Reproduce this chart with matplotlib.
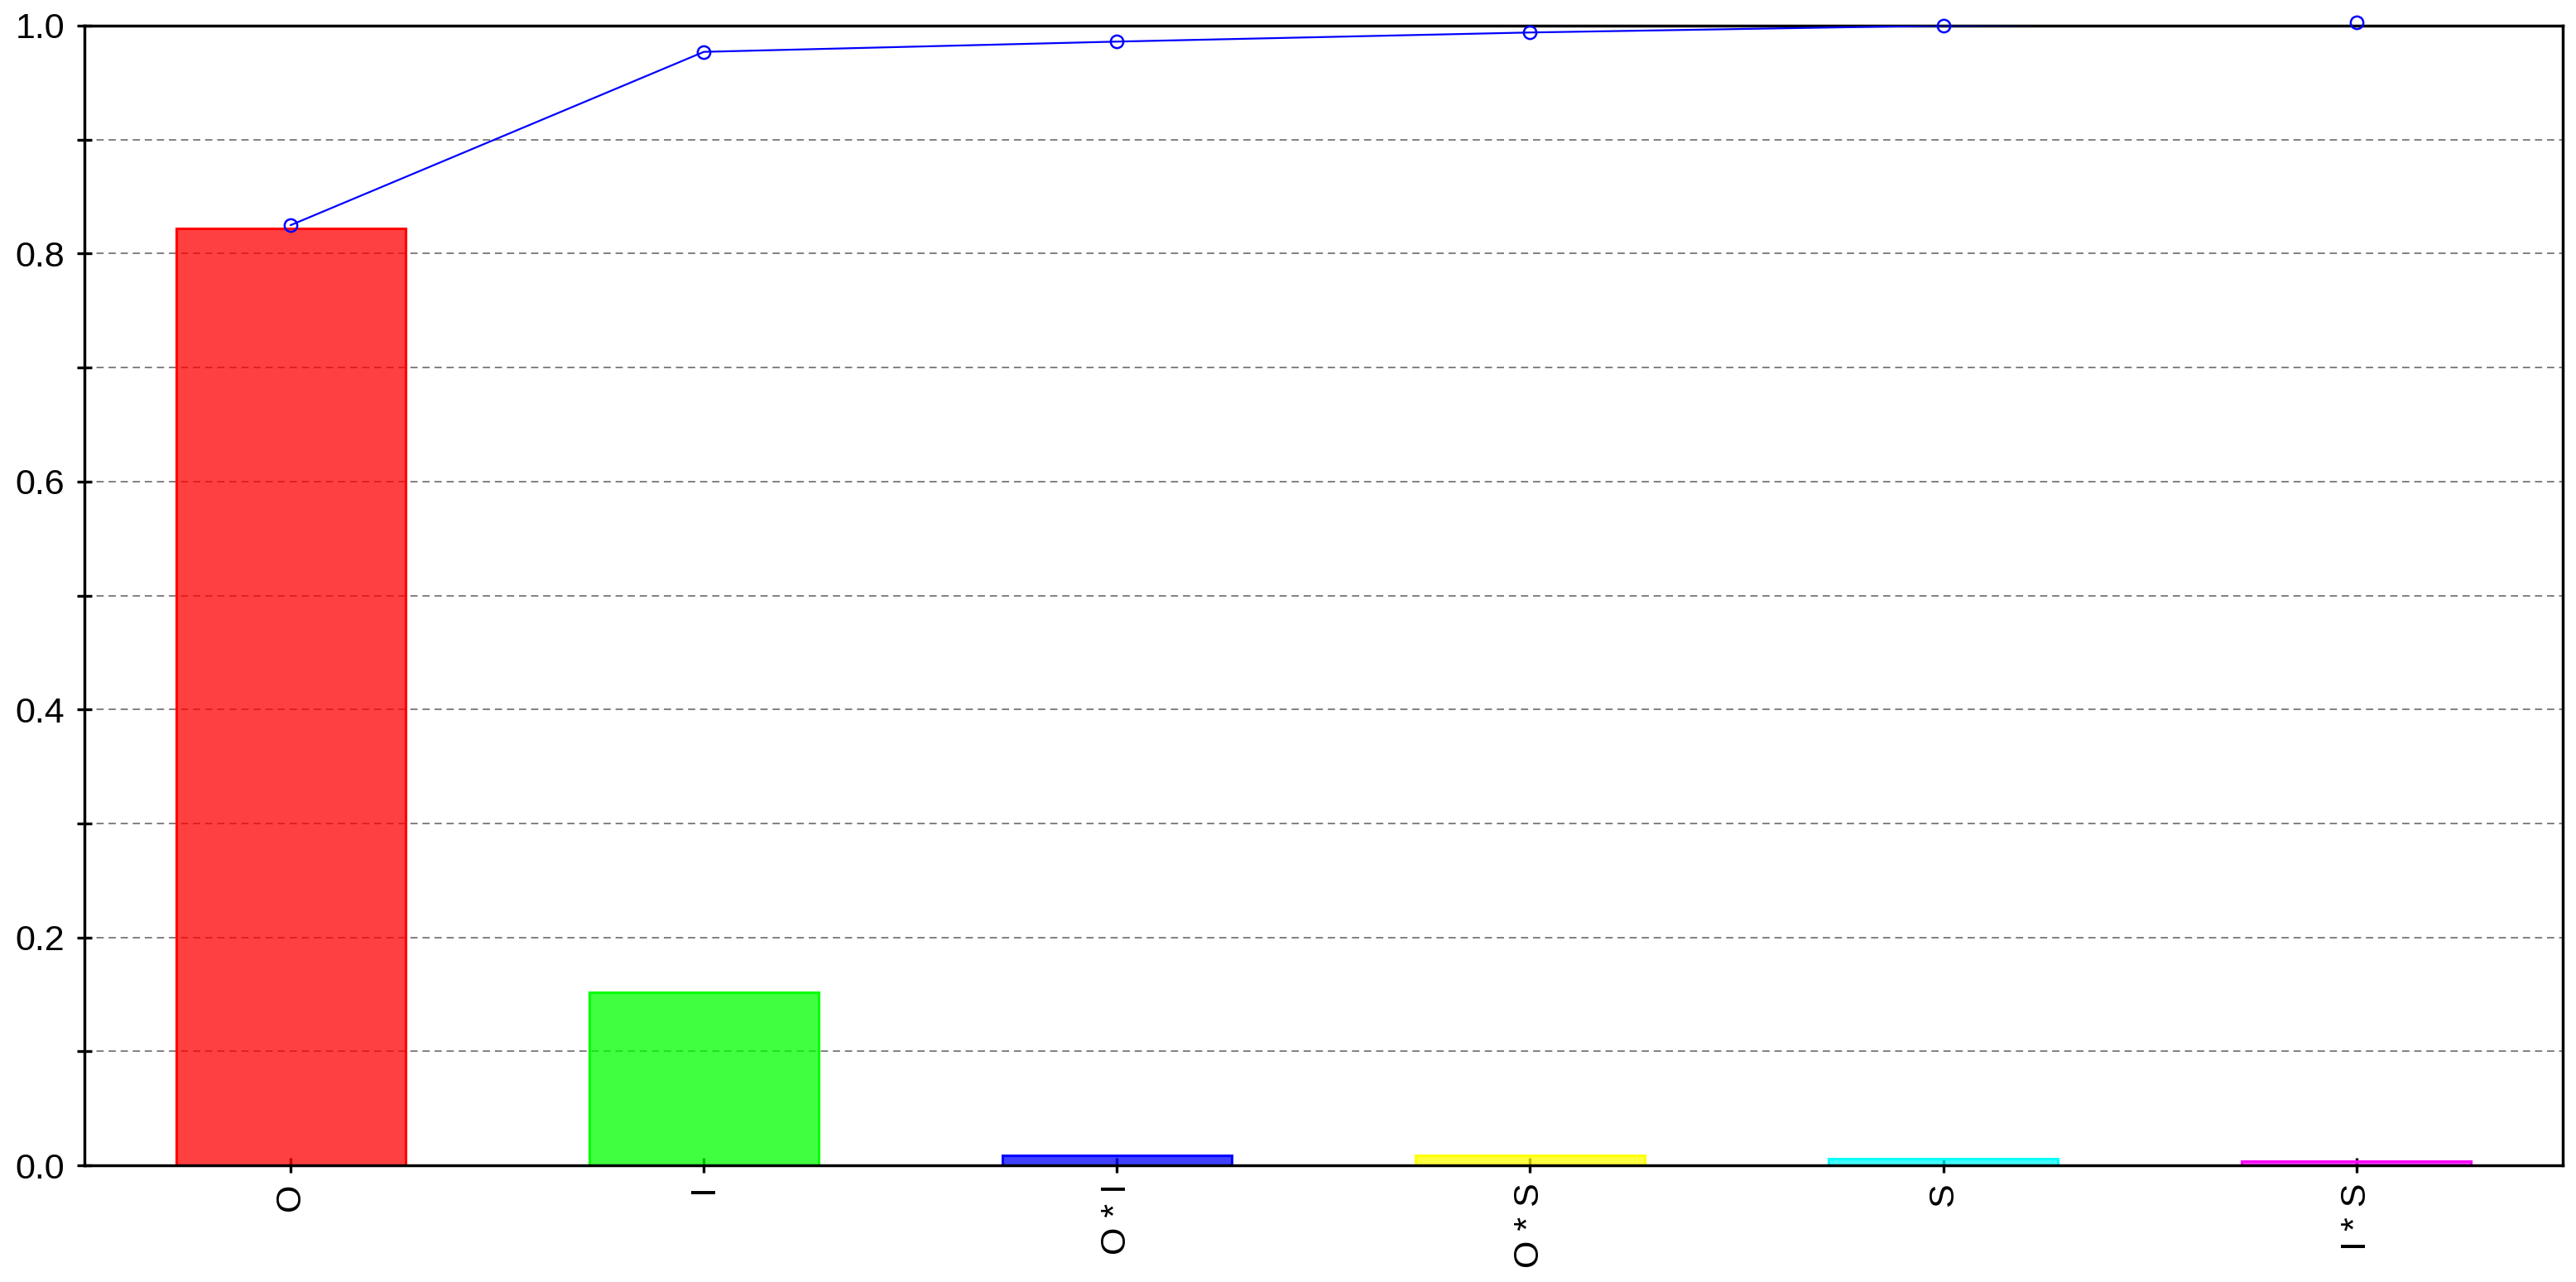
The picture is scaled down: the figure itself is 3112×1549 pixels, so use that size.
import numpy as np
import matplotlib
matplotlib.use('Agg')
import matplotlib.pyplot as plt
from matplotlib.ticker import MultipleLocator

plt.rcParams['font.family'] = ['Liberation Sans', 'DejaVu Sans']

# data
labels = ['O', 'I', 'O * I', 'O * S', 'S', 'I * S']
shares = [0.822, 0.1515, 0.0085, 0.0085, 0.0062, 0.0038]
cumulative = [0.825, 0.977, 0.986, 0.994, 1.000, 1.003]
colors = ['#FF0000', '#00FF00', '#0000FF', '#FFFF00', '#00FFFF', '#FF00FF']

fig = plt.figure(figsize=(31.12, 15.49), dpi=100)
ax = fig.add_axes([0.0327, 0.091, 0.9622, 0.889])

x = np.arange(len(labels))

# bars: translucent fill, solid edge
for i in range(len(labels)):
    ax.bar(x[i], shares[i], width=0.555, color=colors[i], alpha=0.75, zorder=2)
    ax.bar(x[i], shares[i], width=0.555, facecolor='none', edgecolor=colors[i],
           linewidth=2.2, zorder=2)

# cumulative line (clipped) and markers (not clipped)
ax.plot(x, cumulative, color='#0000FF', linewidth=1.6, zorder=4)
ax.plot(x, cumulative, 'o', markerfacecolor='none', markeredgecolor='#0000FF',
        markersize=11, markeredgewidth=1.8, clip_on=False, zorder=6)

ax.set_xlim(-0.5, len(labels) - 0.5)
ax.set_ylim(0, 1.0)
ax.set_xticks(x)
ax.set_xticklabels(labels, rotation=90)
ax.yaxis.set_major_locator(MultipleLocator(0.2))
ax.yaxis.set_minor_locator(MultipleLocator(0.1))
ax.yaxis.set_major_formatter(matplotlib.ticker.FormatStrFormatter('%.1f'))

ax.yaxis.grid(True, which='both', color='#808080', linestyle=(0, (4.5, 3)),
              linewidth=1.4, zorder=0)
ax.set_axisbelow(True)

ax.tick_params(axis='both', which='both', direction='inout', length=13,
               width=2.4, labelsize=31, color='black')
ax.tick_params(axis='y', pad=10.5)
ax.tick_params(axis='x', pad=9)

for s in ax.spines.values():
    s.set_linewidth(2.5)
    s.set_zorder(3)

fig.savefig('out.png', dpi=100)
